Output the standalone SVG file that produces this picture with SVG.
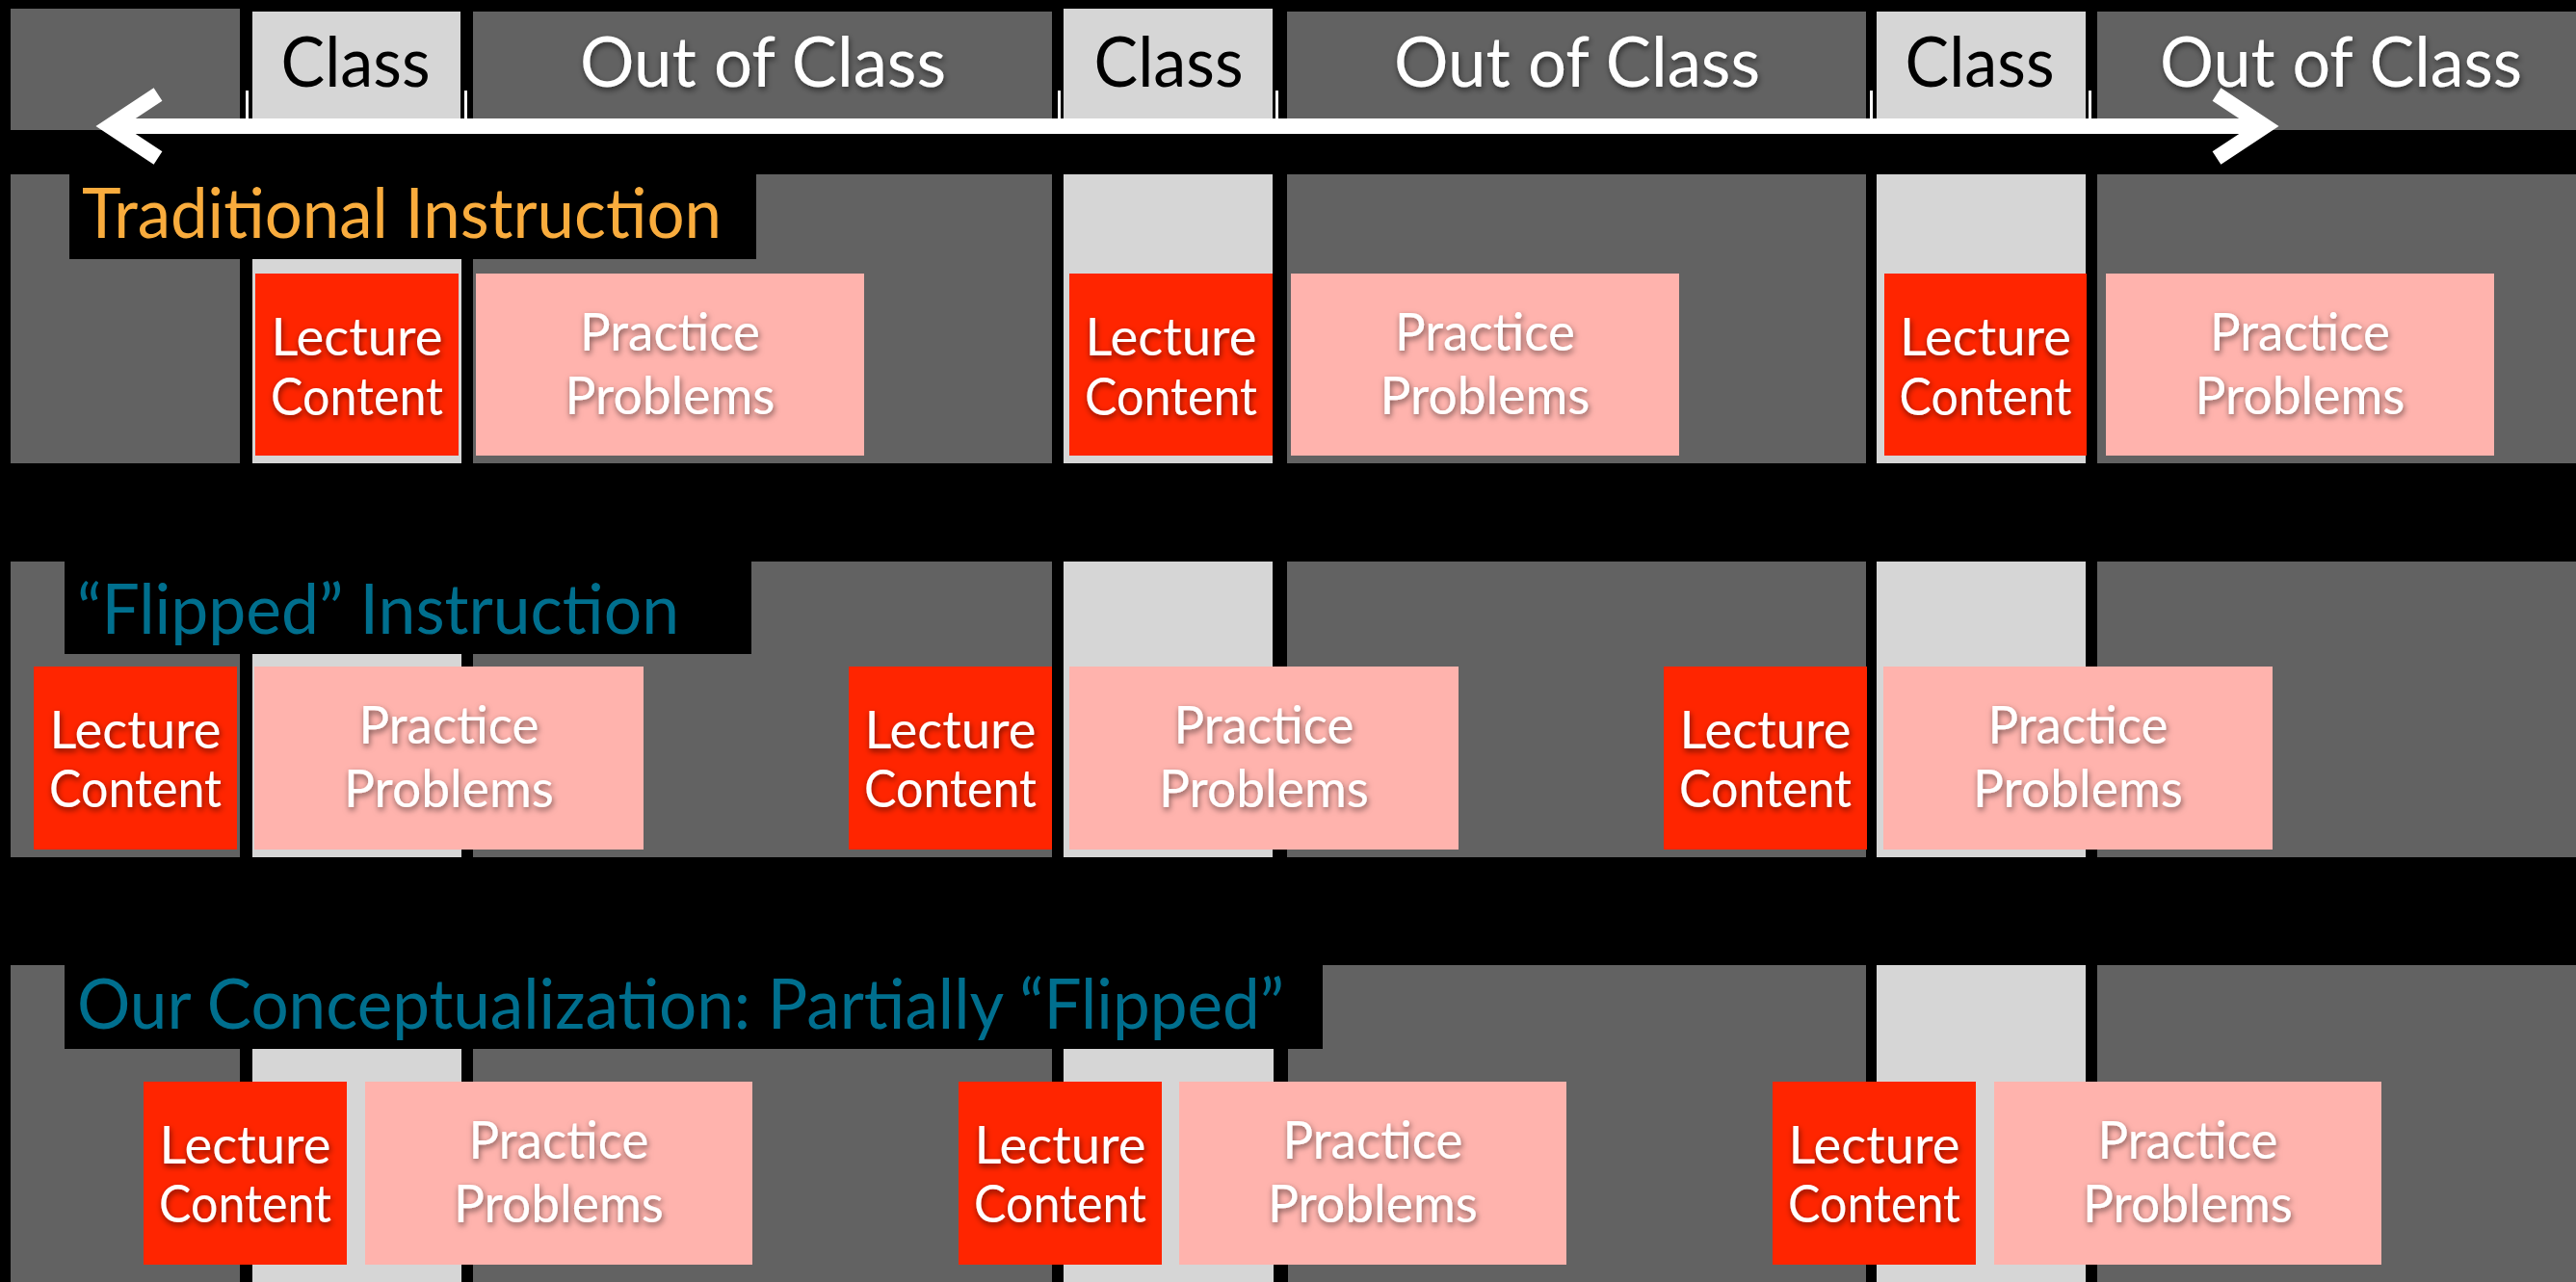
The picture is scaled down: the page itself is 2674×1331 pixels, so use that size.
<svg xmlns="http://www.w3.org/2000/svg" width="2674" height="1331" viewBox="0 0 2674 1331">
  <defs>
    <filter id="txtShadow" x="-20%" y="-40%" width="140%" height="180%">
      <feDropShadow dx="1" dy="3" stdDeviation="3" flood-color="#000" flood-opacity="0.55"/>
    </filter>
    <style>
      .out { fill: #626262; }
      .cls { fill: #d6d6d6; }
      .lec { fill: #ff2500; }
      .prac { fill: #ffb3ad; }
      .tick { fill: #ffffff; }
      .hdr { font-family: "Lato", "Open Sans", sans-serif; font-size: 72px; text-anchor: middle; }
      .hdr-dark { fill: #000; }
      .hdr-light { fill: #fff; filter: url(#txtShadow); }
      .box-txt { font-family: "Lato", "Open Sans", sans-serif; font-size: 54px; fill: #fff; text-anchor: middle; filter: url(#txtShadow); }
      .title { font-family: "Lato", "Open Sans", sans-serif; font-size: 71px; }
      .t-orange { fill: #f9ac3d; }
      .t-teal { fill: #006f8e; }
      .arrow { fill: none; stroke: #fff; stroke-width: 16; stroke-linejoin: miter; }
    </style>
  </defs>

  <!-- page background -->
  <rect x="0" y="0" width="2674" height="1331" fill="#000"/>

  <!-- header strip: Class / Out of Class columns -->
  <g id="header">
    <rect class="out" x="11" y="9" width="238" height="126"/>
    <g id="hdr-class-1">
      <rect class="cls" x="262" y="12" width="216" height="123"/>
      <text class="hdr hdr-dark" x="369" y="90" textLength="155" lengthAdjust="spacingAndGlyphs">Class</text>
    </g>
    <g id="hdr-out-1">
      <rect class="out" x="491" y="12" width="601" height="123"/>
      <text class="hdr hdr-light" x="792" y="90" textLength="380" lengthAdjust="spacingAndGlyphs">Out of Class</text>
    </g>
    <g id="hdr-class-2">
      <rect class="cls" x="1104" y="9" width="217" height="126"/>
      <text class="hdr hdr-dark" x="1213" y="90" textLength="155" lengthAdjust="spacingAndGlyphs">Class</text>
    </g>
    <g id="hdr-out-2">
      <rect class="out" x="1336" y="12" width="601" height="123"/>
      <text class="hdr hdr-light" x="1637" y="90" textLength="380" lengthAdjust="spacingAndGlyphs">Out of Class</text>
    </g>
    <g id="hdr-class-3">
      <rect class="cls" x="1948" y="12" width="217" height="123"/>
      <text class="hdr hdr-dark" x="2055" y="90" textLength="155" lengthAdjust="spacingAndGlyphs">Class</text>
    </g>
    <g id="hdr-out-3">
      <rect class="out" x="2177" y="12" width="497" height="123"/>
      <text class="hdr hdr-light" x="2430" y="90" textLength="376" lengthAdjust="spacingAndGlyphs">Out of Class</text>
    </g>
    <!-- timeline ticks -->
    <rect class="tick" x="255" y="94" width="3" height="30"/>
    <rect class="tick" x="482" y="94" width="3" height="30"/>
    <rect class="tick" x="1098" y="94" width="3" height="30"/>
    <rect class="tick" x="1324" y="94" width="3" height="30"/>
    <rect class="tick" x="1941" y="94" width="3" height="30"/>
    <rect class="tick" x="2168" y="94" width="3" height="30"/>
  </g>

  <!-- timeline connector -->
  <g id="connectors">
    <line class="arrow" x1="114" y1="131" x2="2351" y2="131"/>
    <polyline class="arrow" points="164,98 114,131 164,164"/>
    <polyline class="arrow" points="2301,98 2351,131 2301,164"/>
  </g>

  <!-- row 1: traditional instruction -->
  <g id="row-traditional">
    <g id="row1-columns">
      <rect class="out" x="11" y="181" width="238" height="300"/>
      <rect class="cls" x="262" y="181" width="217" height="300"/>
      <rect class="out" x="491" y="181" width="601" height="300"/>
      <rect class="cls" x="1104" y="181" width="217" height="300"/>
      <rect class="out" x="1336" y="181" width="601" height="300"/>
      <rect class="cls" x="1948" y="181" width="217" height="300"/>
      <rect class="out" x="2177" y="181" width="497" height="300"/>
    </g>
    <g id="title-traditional">
      <rect x="72" y="175" width="713" height="94" fill="#000"/>
      <text class="title t-orange" x="85" y="247" textLength="664" lengthAdjust="spacingAndGlyphs">Traditional Instruction</text>
    </g>
    <g id="trad-lecture-1">
      <rect class="lec" x="265" y="284" width="211" height="189"/>
      <text class="box-txt" x="370.5" y="369" textLength="178" lengthAdjust="spacingAndGlyphs">Lecture</text>
      <text class="box-txt" x="370.5" y="431" textLength="179" lengthAdjust="spacingAndGlyphs">Content</text>
    </g>
    <g id="trad-practice-1">
      <rect class="prac" x="494" y="284" width="403" height="189"/>
      <text class="box-txt" x="695.5" y="364" textLength="187" lengthAdjust="spacingAndGlyphs">Practice</text>
      <text class="box-txt" x="695.5" y="430" textLength="218" lengthAdjust="spacingAndGlyphs">Problems</text>
    </g>
    <g id="trad-lecture-2">
      <rect class="lec" x="1110" y="284" width="211" height="189"/>
      <text class="box-txt" x="1215.5" y="369" textLength="178" lengthAdjust="spacingAndGlyphs">Lecture</text>
      <text class="box-txt" x="1215.5" y="431" textLength="179" lengthAdjust="spacingAndGlyphs">Content</text>
    </g>
    <g id="trad-practice-2">
      <rect class="prac" x="1340" y="284" width="403" height="189"/>
      <text class="box-txt" x="1541.5" y="364" textLength="187" lengthAdjust="spacingAndGlyphs">Practice</text>
      <text class="box-txt" x="1541.5" y="430" textLength="218" lengthAdjust="spacingAndGlyphs">Problems</text>
    </g>
    <g id="trad-lecture-3">
      <rect class="lec" x="1956" y="284" width="210" height="189"/>
      <text class="box-txt" x="2061" y="369" textLength="178" lengthAdjust="spacingAndGlyphs">Lecture</text>
      <text class="box-txt" x="2061" y="431" textLength="179" lengthAdjust="spacingAndGlyphs">Content</text>
    </g>
    <g id="trad-practice-3">
      <rect class="prac" x="2186" y="284" width="403" height="189"/>
      <text class="box-txt" x="2387.5" y="364" textLength="187" lengthAdjust="spacingAndGlyphs">Practice</text>
      <text class="box-txt" x="2387.5" y="430" textLength="218" lengthAdjust="spacingAndGlyphs">Problems</text>
    </g>
  </g>

  <!-- row 2: flipped instruction -->
  <g id="row-flipped">
    <g id="row2-columns">
      <rect class="out" x="11" y="583" width="238" height="307"/>
      <rect class="cls" x="262" y="583" width="217" height="307"/>
      <rect class="out" x="491" y="583" width="601" height="307"/>
      <rect class="cls" x="1104" y="583" width="217" height="307"/>
      <rect class="out" x="1336" y="583" width="601" height="307"/>
      <rect class="cls" x="1948" y="583" width="217" height="307"/>
      <rect class="out" x="2177" y="583" width="497" height="307"/>
    </g>
    <g id="title-flipped">
      <rect x="67" y="577" width="713" height="102" fill="#000"/>
      <text class="title t-teal" x="80" y="658" textLength="625" lengthAdjust="spacingAndGlyphs">“Flipped” Instruction</text>
    </g>
    <g id="flip-lecture-1">
      <rect class="lec" x="35" y="692" width="211" height="190"/>
      <text class="box-txt" x="140.5" y="777" textLength="178" lengthAdjust="spacingAndGlyphs">Lecture</text>
      <text class="box-txt" x="140.5" y="838" textLength="179" lengthAdjust="spacingAndGlyphs">Content</text>
    </g>
    <g id="flip-practice-1">
      <rect class="prac" x="264" y="692" width="404" height="190"/>
      <text class="box-txt" x="466" y="772" textLength="187" lengthAdjust="spacingAndGlyphs">Practice</text>
      <text class="box-txt" x="466" y="838" textLength="218" lengthAdjust="spacingAndGlyphs">Problems</text>
    </g>
    <g id="flip-lecture-2">
      <rect class="lec" x="881" y="692" width="211" height="190"/>
      <text class="box-txt" x="986.5" y="777" textLength="178" lengthAdjust="spacingAndGlyphs">Lecture</text>
      <text class="box-txt" x="986.5" y="838" textLength="179" lengthAdjust="spacingAndGlyphs">Content</text>
    </g>
    <g id="flip-practice-2">
      <rect class="prac" x="1110" y="692" width="404" height="190"/>
      <text class="box-txt" x="1312" y="772" textLength="187" lengthAdjust="spacingAndGlyphs">Practice</text>
      <text class="box-txt" x="1312" y="838" textLength="218" lengthAdjust="spacingAndGlyphs">Problems</text>
    </g>
    <g id="flip-lecture-3">
      <rect class="lec" x="1727" y="692" width="211" height="190"/>
      <text class="box-txt" x="1832.5" y="777" textLength="178" lengthAdjust="spacingAndGlyphs">Lecture</text>
      <text class="box-txt" x="1832.5" y="838" textLength="179" lengthAdjust="spacingAndGlyphs">Content</text>
    </g>
    <g id="flip-practice-3">
      <rect class="prac" x="1955" y="692" width="404" height="190"/>
      <text class="box-txt" x="2157" y="772" textLength="187" lengthAdjust="spacingAndGlyphs">Practice</text>
      <text class="box-txt" x="2157" y="838" textLength="218" lengthAdjust="spacingAndGlyphs">Problems</text>
    </g>
  </g>

  <!-- row 3: partially flipped -->
  <g id="row-partial">
    <g id="row3-columns">
      <rect class="out" x="11" y="1002" width="238" height="329"/>
      <rect class="cls" x="262" y="1002" width="217" height="329"/>
      <rect class="out" x="491" y="1002" width="601" height="329"/>
      <rect class="cls" x="1104" y="1002" width="218" height="329"/>
      <rect class="out" x="1337" y="1002" width="600" height="329"/>
      <rect class="cls" x="1948" y="1002" width="217" height="329"/>
      <rect class="out" x="2177" y="1002" width="497" height="329"/>
    </g>
    <g id="title-partial">
      <rect x="67" y="996" width="1306" height="93" fill="#000"/>
      <text class="title t-teal" x="80" y="1068" textLength="1253" lengthAdjust="spacingAndGlyphs">Our Conceptualization: Partially “Flipped”</text>
    </g>
    <g id="part-lecture-1">
      <rect class="lec" x="149" y="1123" width="211" height="190"/>
      <text class="box-txt" x="254.5" y="1208" textLength="178" lengthAdjust="spacingAndGlyphs">Lecture</text>
      <text class="box-txt" x="254.5" y="1269" textLength="179" lengthAdjust="spacingAndGlyphs">Content</text>
    </g>
    <g id="part-practice-1">
      <rect class="prac" x="379" y="1123" width="402" height="190"/>
      <text class="box-txt" x="580" y="1203" textLength="187" lengthAdjust="spacingAndGlyphs">Practice</text>
      <text class="box-txt" x="580" y="1269" textLength="218" lengthAdjust="spacingAndGlyphs">Problems</text>
    </g>
    <g id="part-lecture-2">
      <rect class="lec" x="995" y="1123" width="211" height="190"/>
      <text class="box-txt" x="1100.5" y="1208" textLength="178" lengthAdjust="spacingAndGlyphs">Lecture</text>
      <text class="box-txt" x="1100.5" y="1269" textLength="179" lengthAdjust="spacingAndGlyphs">Content</text>
    </g>
    <g id="part-practice-2">
      <rect class="prac" x="1224" y="1123" width="402" height="190"/>
      <text class="box-txt" x="1425" y="1203" textLength="187" lengthAdjust="spacingAndGlyphs">Practice</text>
      <text class="box-txt" x="1425" y="1269" textLength="218" lengthAdjust="spacingAndGlyphs">Problems</text>
    </g>
    <g id="part-lecture-3">
      <rect class="lec" x="1840" y="1123" width="211" height="190"/>
      <text class="box-txt" x="1945.5" y="1208" textLength="178" lengthAdjust="spacingAndGlyphs">Lecture</text>
      <text class="box-txt" x="1945.5" y="1269" textLength="179" lengthAdjust="spacingAndGlyphs">Content</text>
    </g>
    <g id="part-practice-3">
      <rect class="prac" x="2070" y="1123" width="402" height="190"/>
      <text class="box-txt" x="2271" y="1203" textLength="187" lengthAdjust="spacingAndGlyphs">Practice</text>
      <text class="box-txt" x="2271" y="1269" textLength="218" lengthAdjust="spacingAndGlyphs">Problems</text>
    </g>
  </g>
</svg>
